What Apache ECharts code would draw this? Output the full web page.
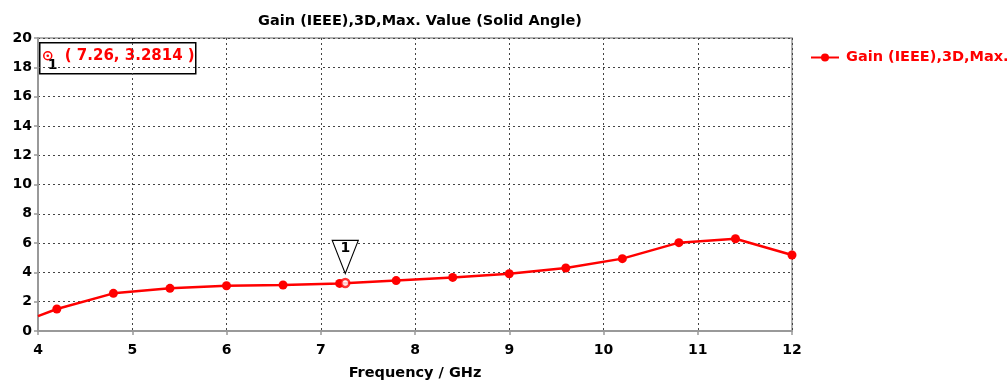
<!DOCTYPE html>
<html>
<head>
<meta charset="utf-8">
<script src="https://cdn.jsdelivr.net/npm/echarts@6/dist/echarts.min.js"></script>
<style>
html,body{margin:0;padding:0;background:#fff;}
#c{width:1008px;height:386px;}
</style>
</head>
<body>
<div id="c"></div>
<script>
// Data
const freqGHz = [4.0, 4.2, 4.8, 5.4, 6.0, 6.6, 7.2, 7.8, 8.4, 9.0, 9.6, 10.2, 10.8, 11.4, 12.0];
const gainDb  = [1.02, 1.50, 2.57, 2.91, 3.09, 3.14, 3.25, 3.44, 3.66, 3.91, 4.30, 4.94, 6.03, 6.30, 5.19];
const markerFreq = [7.26];
const markerGain = [3.2814];
const markerIds = ['1'];
const xTicks = [4, 5, 6, 7, 8, 9, 10, 11, 12];
const yTicks = [0, 2, 4, 6, 8, 10, 12, 14, 16, 18, 20];

const seriesName = 'Gain (IEEE),3D,Max. Value (Solid Angle)';
const FONT = 'DejaVu Sans';

const lineData = freqGHz.map((f, i) => i === 0 ? { value: [f, gainDb[i]], symbol: 'none' } : [f, gainDb[i]]);
const mkData = markerFreq.map((f, i) => [f, markerGain[i]]);

const chart = echarts.init(document.getElementById('c'));
chart.setOption({
  animation: false,
  backgroundColor: '#fff',
  title: {
    text: seriesName,
    left: 415, textAlign: 'center', top: 9,
    textStyle: { fontFamily: FONT, fontSize: 14.5, fontWeight: 'bold', color: '#000' }
  },
  legend: {
    left: 805, top: 45,
    itemWidth: 28, itemHeight: 10, itemGap: 10,
    data: [seriesName],
    textStyle: { fontFamily: FONT, fontSize: 14.5, fontWeight: 'bold', color: '#ff0000', padding: [0, 0, 0, 2] }
  },
  grid: { left: 38, right: 216, top: 38, bottom: 55, show: true, borderColor: '#999', borderWidth: 1.5 },
  xAxis: {
    type: 'value', min: xTicks[0], max: xTicks[xTicks.length - 1], interval: 1,
    name: 'Frequency / GHz', nameLocation: 'middle', nameGap: 35,
    nameTextStyle: { fontFamily: FONT, fontSize: 14.5, fontWeight: 'bold', color: '#000' },
    axisLine: { lineStyle: { color: '#999', width: 2 } },
    axisTick: { show: true, length: 4, lineStyle: { color: '#999', width: 1.5 } },
    axisLabel: { fontFamily: FONT, fontSize: 14, fontWeight: 'bold', color: '#000', margin: 12 },
    splitLine: { show: true, lineStyle: { type: [2, 3], color: '#444', width: 1 } }
  },
  yAxis: {
    type: 'value', min: yTicks[0], max: yTicks[yTicks.length - 1], interval: 2,
    axisLine: { show: true, lineStyle: { color: '#999', width: 2 } },
    axisTick: { show: true, length: 4, lineStyle: { color: '#999', width: 1.5 } },
    axisLabel: { fontFamily: FONT, fontSize: 14, fontWeight: 'bold', color: '#000', margin: 6 },
    splitLine: { show: true, lineStyle: { type: [2, 3], color: '#444', width: 1 } }
  },
  series: [
    {
      name: seriesName, type: 'line', data: lineData,
      symbol: 'circle', symbolSize: 9,
      lineStyle: { color: '#ff0000', width: 2.5 },
      itemStyle: { color: '#ff0000' },
      z: 3
    },
    {
      name: 'marker', type: 'scatter', data: mkData,
      symbol: 'circle', symbolSize: 8,
      itemStyle: { color: '#fff', borderColor: '#ff0000', borderWidth: 2.5 },
      z: 5,
      markPoint: {
        symbol: 'path://M0,0 L26,0 L13,33 Z',
        symbolSize: [26, 33],
        symbolOffset: [0, -26],
        itemStyle: { color: '#fff', borderColor: '#000', borderWidth: 1.2 },
        label: { show: true, formatter: () => markerIds[0], offset: [0, -9], fontFamily: FONT, fontSize: 14, fontWeight: 'bold', color: '#000' },
        data: mkData.map(d => ({ coord: d }))
      }
    }
  ],
  graphic: [
    {
      type: 'group', left: 39, top: 42,
      children: [
        { type: 'rect', shape: { x: 0, y: 0, width: 156, height: 31 }, style: { fill: '#fff', stroke: '#000', lineWidth: 1.5 } },
        { type: 'circle', shape: { cx: 8, cy: 13, r: 4 }, style: { fill: '#fff', stroke: '#ff0000', lineWidth: 1.5 } },
        { type: 'circle', shape: { cx: 8, cy: 13, r: 1.3 }, style: { fill: '#ff0000' } },
        { type: 'text', style: { x: 8, y: 16, text: markerIds[0], font: 'bold 14px DejaVu Sans', fill: '#000' } },
        { type: 'text', style: { x: 25, y: 6, text: '( ' + markerFreq[0] + ', ' + markerGain[0] + ' )', font: 'bold 15px DejaVu Sans', fill: '#ff0000' } }
      ]
    }
  ]
});
</script>
</body>
</html>
